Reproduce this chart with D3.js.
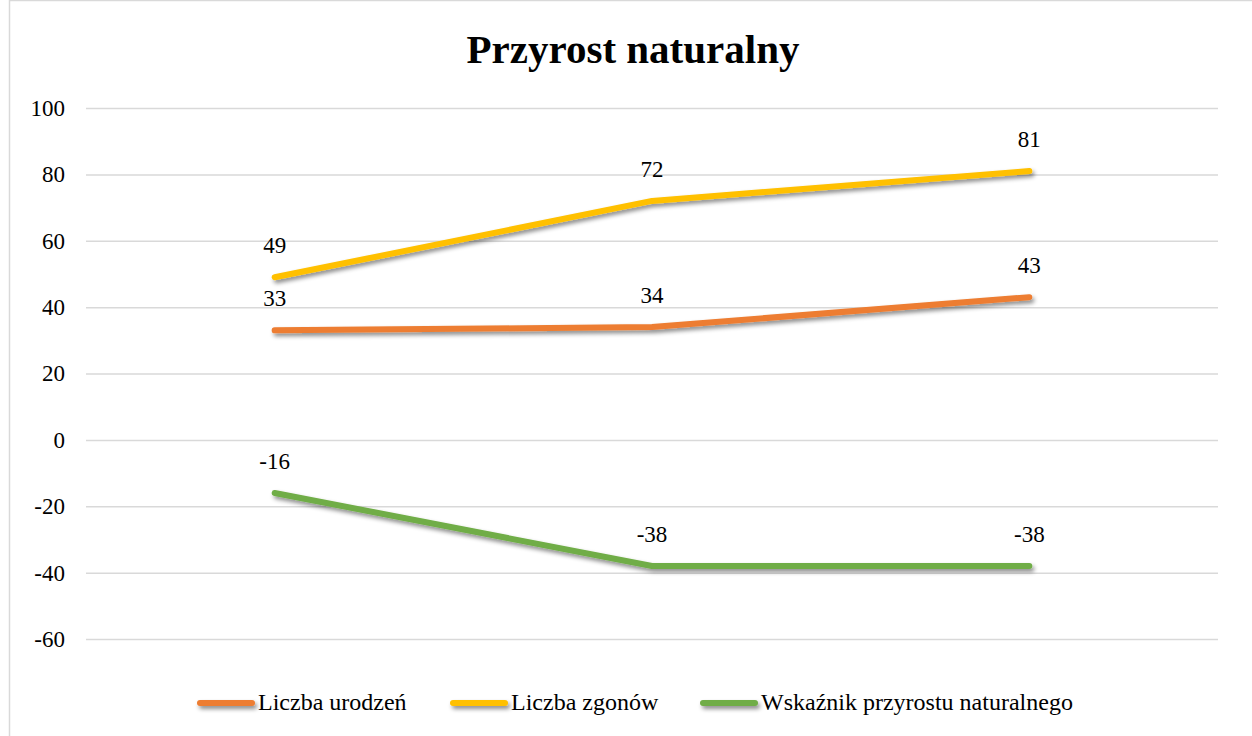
<!DOCTYPE html>
<html><head><meta charset="utf-8">
<script src="https://cdn.jsdelivr.net/npm/d3@7"></script>
<style>body{margin:0;background:#fff}svg{display:block}</style>
</head><body><svg id="c" width="1252" height="736"></svg>
<script>
const categories = ["1", "2", "3"];
const seriesNames = ["Liczba urodzeń", "Liczba zgonów", "Wskaźnik przyrostu naturalnego"];
const urodzenia = [33, 34, 43];
const zgony = [49, 72, 81];
const przyrost = [-16, -38, -38];
const yTicks = [-60, -40, -20, 0, 20, 40, 60, 80, 100];
const colors = ["#ED7D31", "#FFC000", "#70AD47"];
const title = "Przyrost naturalny";

(function () {
const FF = "Liberation Serif";
const series = [urodzenia, zgony, przyrost].map((v, i) => ({name: seriesNames[i], values: v, color: colors[i]}));

const svg = d3.select("#c");
svg.append("rect").attr("x", 9.5).attr("y", 0.5).attr("width", 1300).attr("height", 760)
  .attr("fill", "#fff").attr("stroke", "#D9D9D9").attr("stroke-width", 1.5);

const defs = svg.append("defs");
const f = defs.append("filter").attr("id", "sh").attr("filterUnits", "userSpaceOnUse")
  .attr("x", 0).attr("y", 0).attr("width", 1252).attr("height", 736);
f.append("feDropShadow").attr("dx", 2).attr("dy", 3).attr("stdDeviation", 2.2).attr("flood-color", "#000").attr("flood-opacity", 0.45);

const pL = 86, pR = 1218, pT = 108, pB = 639;
const x = d3.scaleBand().domain(categories).range([pL, pR]);
const y = d3.scaleLinear().domain([-60, 100]).range([pB, pT]);

svg.append("text").attr("x", 633).attr("y", 63).attr("text-anchor", "middle")
  .attr("font-family", FF).attr("font-size", 41).attr("font-weight", "bold").attr("fill", "#000").text(title);

const yAxis = d3.axisLeft(y).tickValues(yTicks).tickSize(-(pR - pL)).tickPadding(21).tickFormat(d => String(d));
const ga = svg.append("g").attr("transform", `translate(${pL},0)`).call(yAxis);
ga.attr("font-family", FF).attr("font-size", 23);
ga.select(".domain").remove();
ga.selectAll(".tick line").attr("stroke", "#D9D9D9").attr("stroke-width", 1.5);
ga.selectAll(".tick text").attr("fill", "#000");

const line = d3.line().x((d, i) => x(categories[i]) + x.bandwidth() / 2).y(d => y(d));
const gl = svg.append("g");
series.forEach(s => {
  gl.append("path").datum(s.values).attr("d", line).attr("fill", "none")
    .attr("stroke", s.color).attr("stroke-width", 6).attr("stroke-linecap", "round").attr("stroke-linejoin", "round")
    .attr("filter", "url(#sh)");
});
series.forEach(s => {
  s.values.forEach((v, i) => {
    svg.append("text").attr("x", x(categories[i]) + x.bandwidth() / 2).attr("y", y(v) - 24)
      .attr("text-anchor", "middle").attr("font-family", FF).attr("font-size", 23).attr("fill", "#000").text(v);
  });
});

const legendX = [197, 450, 700];
const legendW = 58;
const lg = svg.append("g");
series.forEach((s, i) => {
  lg.append("line").attr("x1", legendX[i] + 3).attr("x2", legendX[i] + legendW - 3).attr("y1", 703).attr("y2", 703)
    .attr("stroke", s.color).attr("stroke-width", 6).attr("stroke-linecap", "round").attr("filter", "url(#sh)");
  lg.append("text").attr("x", legendX[i] + legendW + 3).attr("y", 710).attr("font-family", FF)
    .attr("font-size", 24).attr("fill", "#000").text(s.name);
});
})();
</script></body></html>
